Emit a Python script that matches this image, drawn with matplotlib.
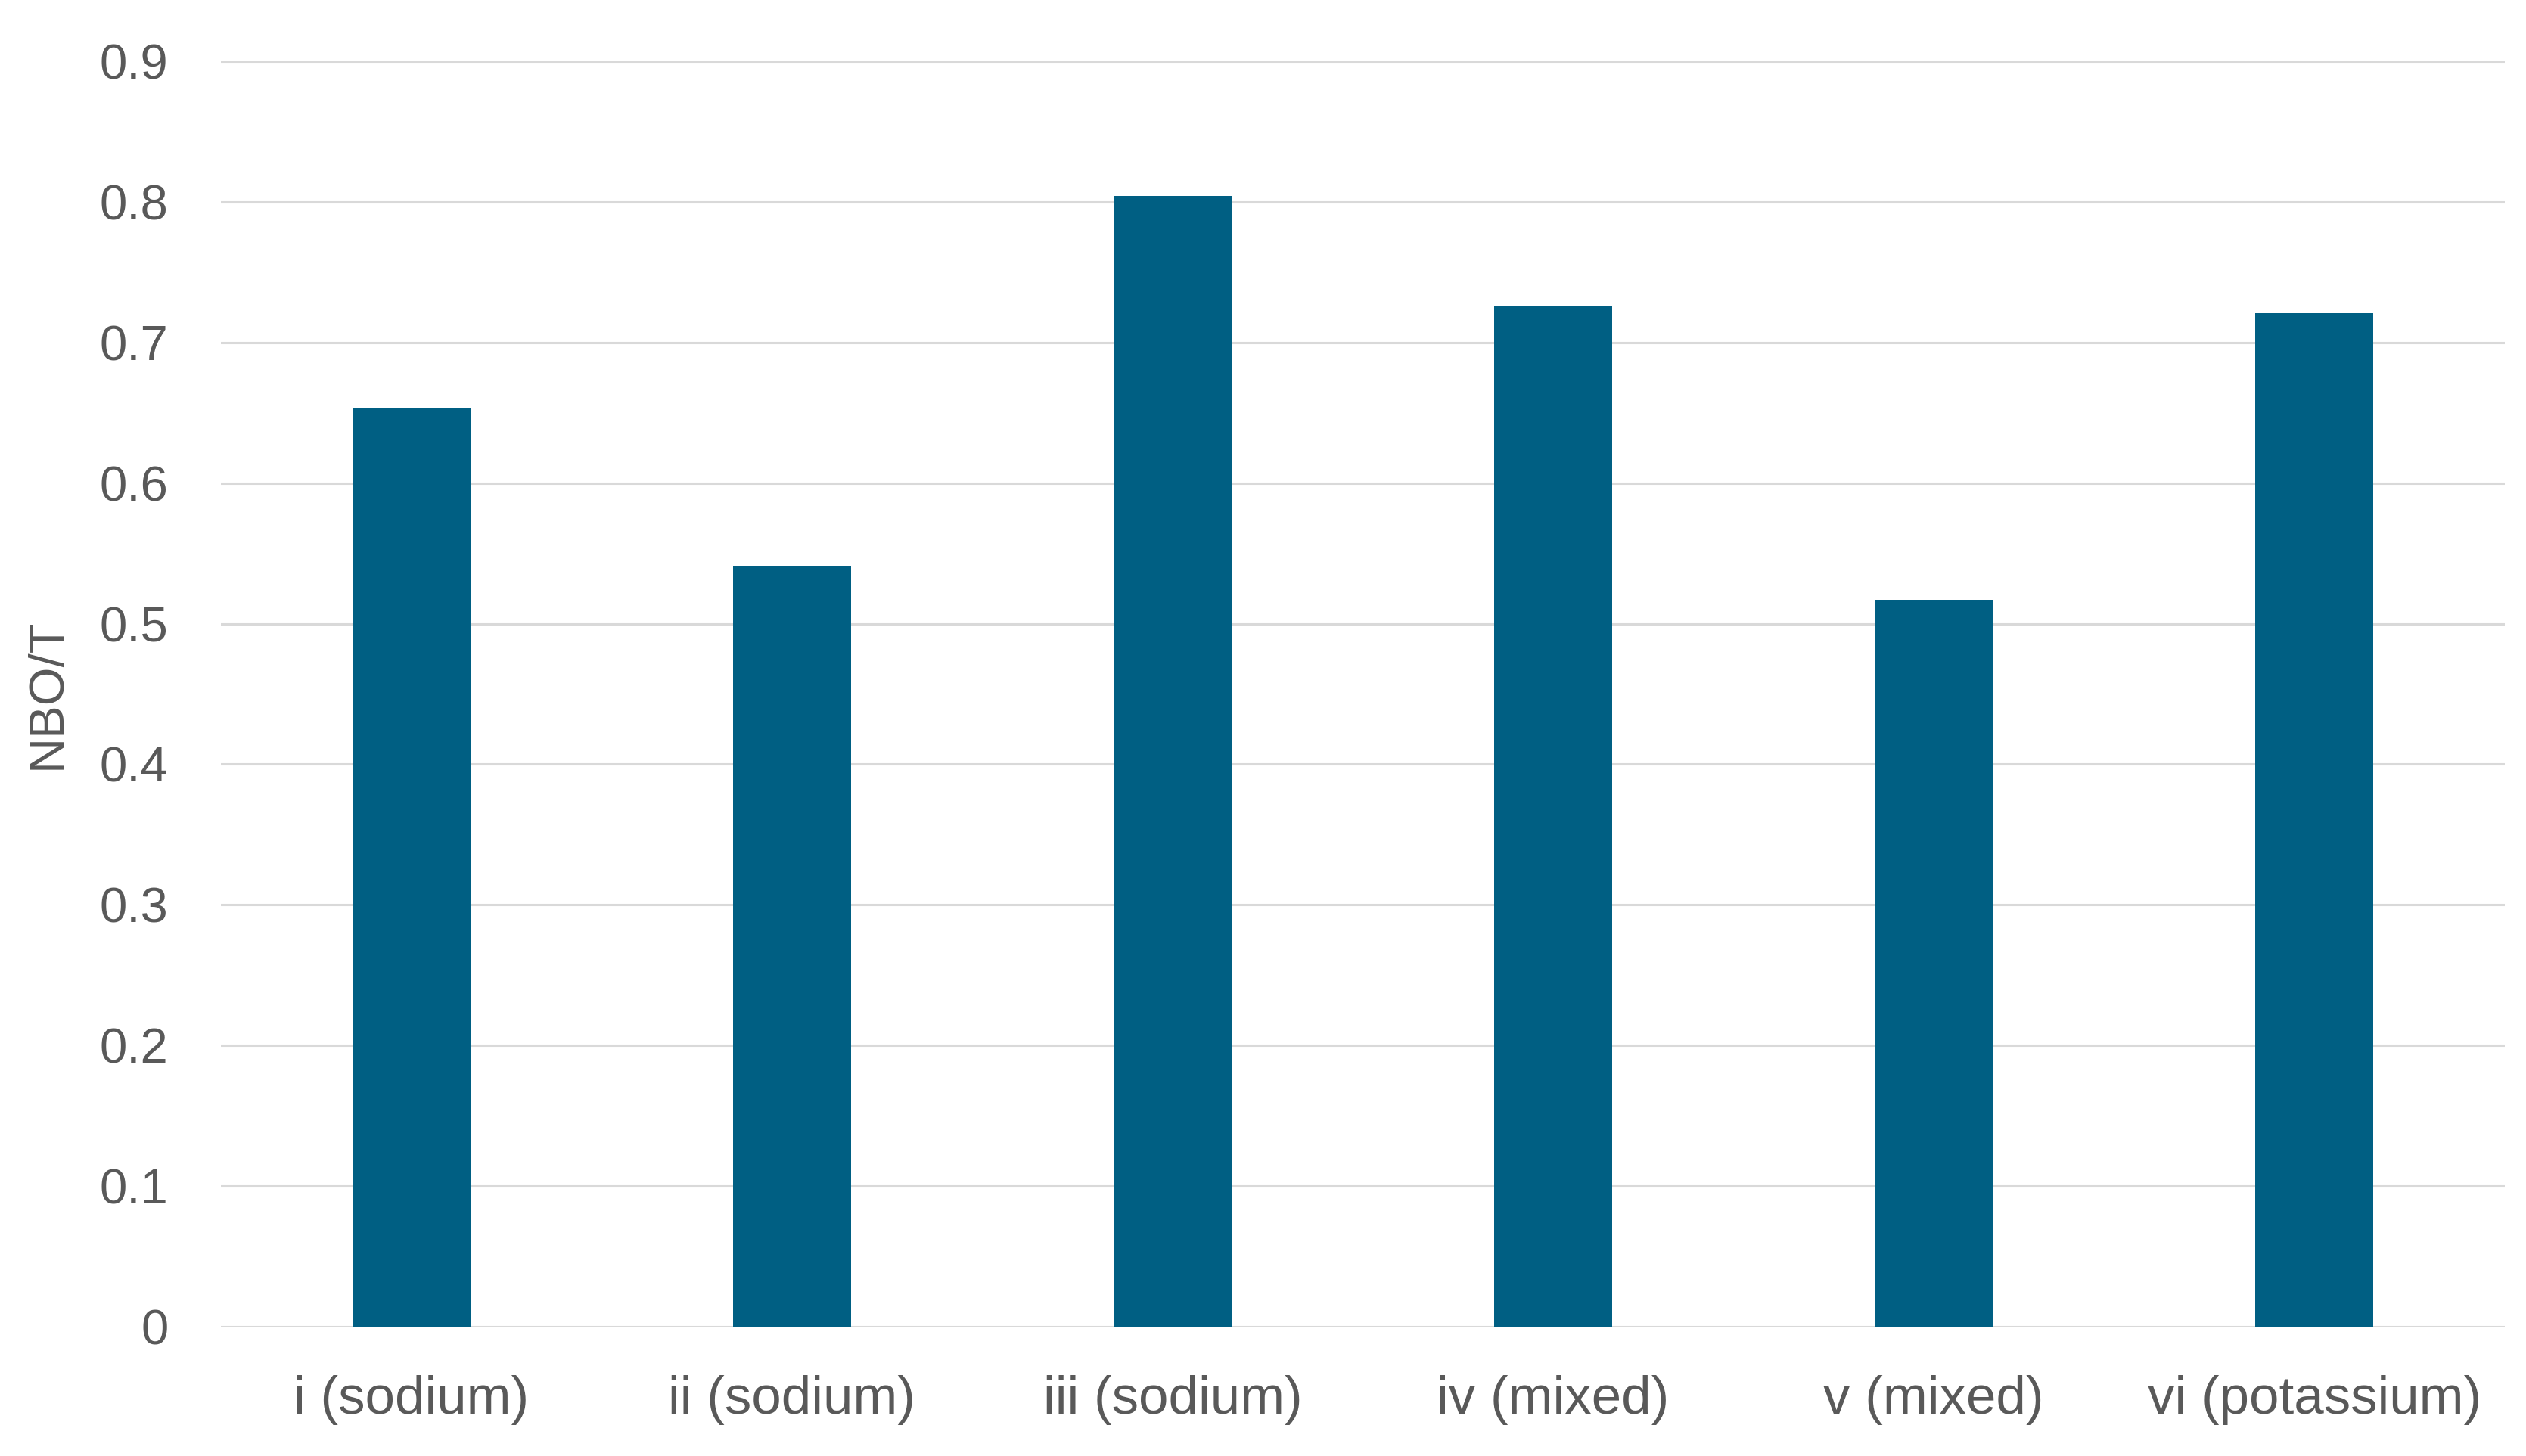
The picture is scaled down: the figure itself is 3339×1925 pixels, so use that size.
import matplotlib
matplotlib.use('Agg')
import matplotlib.pyplot as plt
import numpy as np

# categories and NBO/T values
categories = ['i (sodium)', 'ii (sodium)', 'iii (sodium)', 'iv (mixed)', 'v (mixed)', 'vi (potassium)']
nbo_t = [0.653, 0.541, 0.804, 0.726, 0.517, 0.721]
y_ticks = [0, 0.1, 0.2, 0.3, 0.4, 0.5, 0.6, 0.7, 0.8, 0.9]
y_tick_labels = ['0', '0.1', '0.2', '0.3', '0.4', '0.5', '0.6', '0.7', '0.8', '0.9']

plt.rcParams['font.family'] = ['Liberation Sans', 'DejaVu Sans']

fig = plt.figure(figsize=(33.39, 19.25), dpi=100)
ax = fig.add_axes([292 / 3339, 1 - 1754 / 1925, (3311 - 292) / 3339, (1754 - 81) / 1925])

x = np.arange(len(categories))
ax.bar(x, nbo_t, width=0.31, color='#005F83', zorder=3)

ax.set_xlim(-0.5, len(categories) - 0.5)
ax.set_ylim(0, 0.9)
ax.set_yticks(y_ticks)
ax.set_yticklabels(y_tick_labels)
ax.set_xticks(x)
ax.set_xticklabels(categories)

ax.grid(axis='y', color='#D9D9D9', linewidth=2.2, zorder=0)
ax.grid(axis='x', visible=False)
for s in ax.spines.values():
    s.set_visible(False)

ax.tick_params(axis='both', length=0, colors='#595959')
ax.tick_params(axis='y', labelsize=47, pad=50)
ax.tick_params(axis='x', labelsize=51, pad=46)

ax.set_ylabel('NBO/T', fontsize=47, color='#595959', labelpad=28)

fig.savefig('out.png', dpi=100, facecolor='white')
